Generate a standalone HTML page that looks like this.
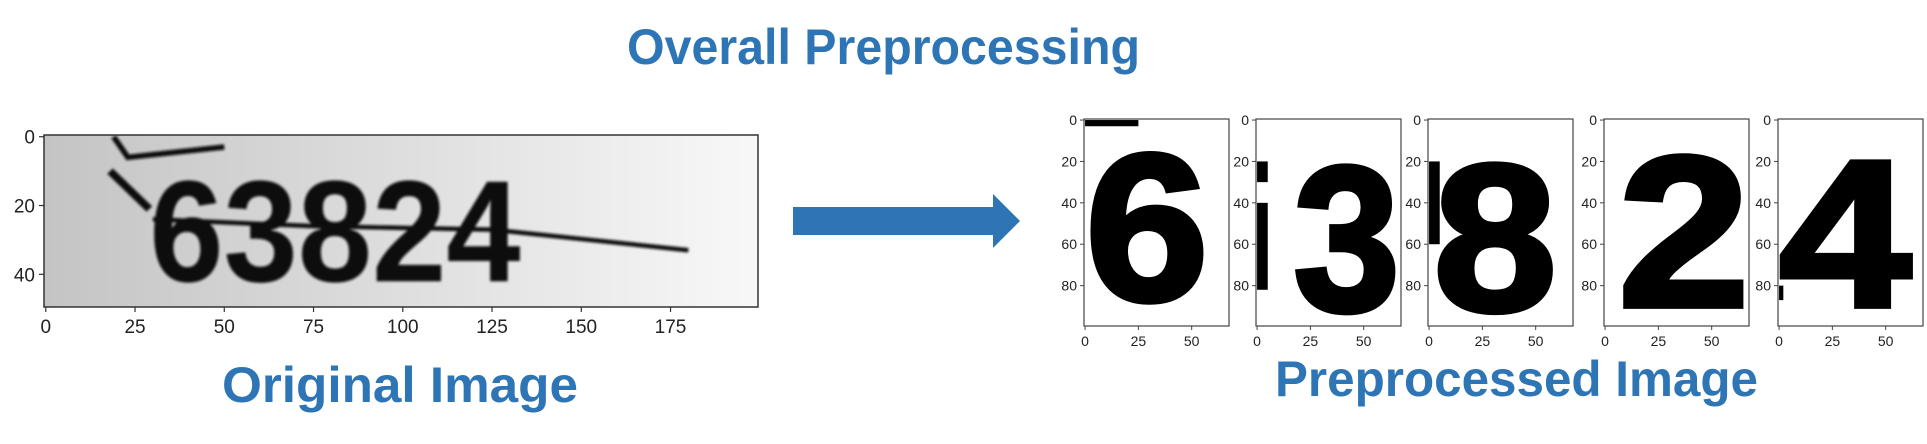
<!DOCTYPE html>
<html><head><meta charset="utf-8">
<style>
html,body{margin:0;padding:0;background:#fff;}
#root{position:relative;width:1927px;height:444px;overflow:hidden;}
svg text{font-family:"Liberation Sans",sans-serif;}
</style></head>
<body>
<div id="root">
<svg id="canvas" width="1927" height="444" viewBox="0 0 1927 444" xmlns="http://www.w3.org/2000/svg">
  <defs>
    <linearGradient id="bgGrad" x1="0" x2="1" y1="0" y2="0">
      <stop offset="0" stop-color="#c4c4c4"/>
      <stop offset="1" stop-color="#f8f8f8"/>
    </linearGradient>
    <filter id="blur"><feGaussianBlur stdDeviation="0.35"/></filter>
  </defs>
  <text x="627" y="64" font-size="50" font-weight="bold" fill="#2e75b6" textLength="513" lengthAdjust="spacingAndGlyphs">Overall Preprocessing</text>
  <text x="222" y="402" font-size="50" font-weight="bold" fill="#2e75b6" textLength="356" lengthAdjust="spacingAndGlyphs">Original Image</text>
  <text x="1275" y="396" font-size="50" font-weight="bold" fill="#2e75b6" textLength="483" lengthAdjust="spacingAndGlyphs">Preprocessed Image</text>
  <polygon points="793,207 993,207 993,194 1020,221 993,248 993,235 793,235" fill="#2e75b6"/>
  <g id="leftPanel"></g>
  <g id="rightPanels"></g>
</svg>
</div>
<script>
const NS = "http://www.w3.org/2000/svg";
// Left panel data
const leftXTicks = [0,25,50,75,100,125,150,175];
const leftYTicks = [0,20,40];
const leftText = "63824";
// Right panels data
const digitLabels = ["6","3","8","2","4"];
const rightXTicks = [0,25,50];
const rightYTicks = [0,20,40,60,80];

function mk(tag, attrs, parent){
  const e = document.createElementNS(NS, tag);
  for (const k in attrs) e.setAttribute(k, attrs[k]);
  parent.appendChild(e);
  return e;
}

// ---------- Left panel ----------
(function(){
  const g = document.getElementById('leftPanel');
  const X0=44, X1=758, Y0=135, Y1=307, W=200, H=50;
  const xs = v => X0 + (v+0.5)*(X1-X0)/W;
  const ys = v => Y0 + (v+0.5)*(Y1-Y0)/H;
  const inner = mk('svg',{x:X0,y:Y0,width:X1-X0,height:Y1-Y0,viewBox:"-0.5 -0.5 200 50",preserveAspectRatio:"none"},g);
  
  
  mk('rect',{x:-0.5,y:-0.5,width:200,height:50,fill:"url(#bgGrad)"},inner);
  const gi = mk('g',{filter:"url(#blur)"},inner);
  const t = mk('text',{x:29,y:42,'font-size':42,'font-weight':'bold',fill:'#111',textLength:104,lengthAdjust:'spacingAndGlyphs'},gi);
  t.textContent = leftText;
  
  
  mk('polyline',{points:"19,0 23,6 50,3",fill:'none',stroke:'#111','stroke-width':1.6},gi);
  mk('polyline',{points:"18,10 29,21",fill:'none',stroke:'#111','stroke-width':2.2},gi);
  mk('polyline',{points:"30,24 75,26 125,27 180,33",fill:'none',stroke:'#111','stroke-width':1.3},gi);
  mk('rect',{x:X0,y:Y0,width:X1-X0,height:Y1-Y0,fill:'none',stroke:'#333','stroke-width':1.5},g);
  leftXTicks.forEach(v=>{
    const x=xs(v);
    mk('line',{x1:x,x2:x,y1:Y1,y2:Y1+5,stroke:'#333','stroke-width':1.2},g);
    const tx=mk('text',{x:x,y:Y1+26,'font-size':19,'text-anchor':'middle',fill:'#222'},g);
    tx.textContent=v;
    
    
  });
  leftYTicks.forEach(v=>{
    const y=ys(v);
    mk('line',{x1:X0-5,x2:X0,y1:y,y2:y,stroke:'#333','stroke-width':1.2},g);
    const ty=mk('text',{x:X0-9,y:y+7,'font-size':19,'text-anchor':'end',fill:'#222'},g);
    ty.textContent=v;
    
    
  });
})();

// ---------- Right panels ----------
(function(){
  const g = document.getElementById('rightPanels');
  const lefts = [1084,1256,1428,1604,1778];
  const PW=145, Y0=119, Y1=326, W=68, H=100;
  // per-digit glyph box in data units [x, top, width, height]
  const boxes = [[0,14,58,73],[17,20,50,72],[2,19,58,73],[6,15,62,75],[0,17,62,73]];
  const extras = [
    [[0,0,25,3]],
    [[0,20,5,10],[0,40,5,42]],
    [[0,20,5,40]],
    [],
    [[0,80,2,7]]
  ];
  digitLabels.forEach((d,i)=>{
    const X0=lefts[i], X1=X0+PW;
    const xs = v => X0 + (v+0.5)*PW/W;
    const ys = v => Y0 + (v+0.5)*(Y1-Y0)/H;
    const inner = mk('svg',{x:X0,y:Y0,width:PW,height:Y1-Y0,viewBox:"-0.5 -0.5 68 100",preserveAspectRatio:"none"},g);
    
    
    mk('rect',{x:-0.5,y:-0.5,width:68,height:100,fill:'#fff'},inner);
    const b=boxes[i];
    const fs=b[3]/0.72;
    const t=mk('text',{x:b[0],y:b[1]+b[3],'font-size':fs,'font-weight':'bold',fill:'#000',textLength:b[2],lengthAdjust:'spacingAndGlyphs','stroke':'#000','stroke-width':2.5},inner);
    t.textContent=d;
    
    
    extras[i].forEach(r=>mk('rect',{x:r[0],y:r[1],width:r[2],height:r[3],fill:'#000'},inner));
    mk('rect',{x:X0,y:Y0,width:PW,height:Y1-Y0,fill:'none',stroke:'#444','stroke-width':1.2},g);
    rightXTicks.forEach(v=>{
      const x=xs(v);
      mk('line',{x1:x,x2:x,y1:Y1,y2:Y1+4,stroke:'#444','stroke-width':1},g);
      const tx=mk('text',{x:x,y:Y1+20,'font-size':14,'text-anchor':'middle',fill:'#222'},g);
      tx.textContent=v;
      
      
    });
    rightYTicks.forEach(v=>{
      const y=ys(v);
      mk('line',{x1:X0-4,x2:X0,y1:y,y2:y,stroke:'#444','stroke-width':1},g);
      const ty=mk('text',{x:X0-7,y:y+5,'font-size':14,'text-anchor':'end',fill:'#222'},g);
      ty.textContent=v;
      
      
    });
  });
})();
</script>
</body></html>
